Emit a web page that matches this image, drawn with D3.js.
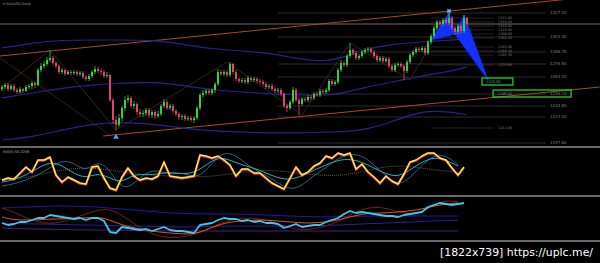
<!DOCTYPE html>
<html>
<head>
<meta charset="utf-8">
<script src="https://cdnjs.cloudflare.com/ajax/libs/d3/7.8.5/d3.min.js"></script>
<style>
body{margin:0;background:#000;}
svg{display:block;}
</style>
</head>
<body>
<svg id="chart" width="600" height="263"></svg>
<script>
// daily candles, open = previous close
const firstOpen = 1251;
const closes = [
1253,1255,1251,1254,1250,1248,1251,1249,1253,1254,
1257,1255,1270,1274,1276,1280,1282,1277,1274,1268,
1270,1266,1268,1267,1268,1266,1267,1263,1261,1264,
1268,1271,1269,1268,1264,1265,1240,1220,1215,1222,
1232,1240,1242,1234,1236,1228,1226,1227,1230,1225,
1228,1224,1226,1234,1238,1232,1234,1229,1226,1223,
1224,1221,1222,1220,1222,1232,1245,1247,1249,1247,
1250,1256,1268,1266,1268,1265,1276,1268,1261,1259,
1260,1258,1262,1260,1261,1259,1258,1256,1253,1254,
1251,1249,1250,1246,1234,1232,1238,1250,1240,1236,
1241,1240,1243,1242,1246,1245,1249,1248,1250,1259,
1256,1258,1270,1277,1275,1284,1290,1287,1282,1284,
1288,1290,1291,1288,1284,1280,1282,1279,1281,1274,
1270,1275,1276,1274,1269,1278,1285,1288,1291,1290,
1292,1287,1298,1304,1312,1318,1316,1320,1317,1322,
1312,1308,1314,1309,1322,1316];
const highs = [
1255,1257,1257,1256,1256,1252,1253,1252,1255,1256,
1259,1258,1272,1277,1279,1283,1290,1284,1279,1276,
1272,1271,1270,1270,1270,1270,1269,1269,1265,1266,
1270,1274,1273,1271,1270,1268,1266,1242,1224,1226,
1234,1244,1245,1244,1239,1238,1231,1230,1232,1232,
1230,1230,1229,1236,1241,1240,1236,1236,1231,1228,
1226,1226,1224,1224,1224,1234,1247,1250,1251,1251,
1252,1258,1271,1270,1270,1270,1278,1277,1270,1263,
1262,1262,1264,1264,1263,1263,1261,1260,1258,1256,
1256,1253,1252,1252,1248,1236,1240,1253,1252,1242,
1243,1243,1245,1245,1248,1248,1251,1251,1252,1261,
1261,1260,1272,1280,1279,1286,1297,1292,1289,1286,
1290,1292,1293,1293,1290,1286,1284,1284,1283,1283,
1276,1277,1278,1278,1276,1280,1287,1290,1293,1293,
1294,1294,1300,1306,1314,1320,1320,1322,1322,1327,
1324,1314,1316,1316,1325,1323];
const lows = [
1249,1251,1249,1250,1248,1246,1246,1247,1248,1251,
1251,1252,1254,1268,1272,1274,1278,1275,1272,1266,
1266,1264,1265,1265,1265,1264,1264,1261,1259,1259,
1262,1266,1267,1265,1262,1262,1238,1216,1210,1213,
1219,1229,1237,1232,1231,1225,1223,1223,1224,1222,
1222,1221,1222,1224,1232,1230,1230,1227,1224,1220,
1220,1219,1219,1218,1217,1220,1230,1243,1245,1245,
1245,1247,1254,1264,1264,1263,1263,1266,1259,1257,
1257,1256,1256,1258,1258,1257,1256,1254,1251,1251,
1249,1247,1247,1244,1232,1228,1230,1236,1238,1225,
1234,1238,1238,1240,1240,1243,1243,1246,1246,1248,
1254,1254,1256,1268,1273,1273,1282,1285,1280,1280,
1282,1286,1288,1286,1282,1278,1278,1277,1277,1272,
1268,1268,1273,1272,1260,1267,1276,1283,1286,1288,
1288,1285,1285,1296,1302,1310,1314,1314,1315,1315,
1310,1305,1306,1306,1307,1314];

// bands, sampled every 10 candles
const bandIdx = [0,10,20,30,40,50,60,70,80,90,100,110,120,130,140,150,155];
const bandUpper = [1292,1297,1300,1300,1300,1300,1296,1291,1289,1287,1280,1278,1290,1296,1298,1300,1301];
const bandMid = [1242,1247,1252,1255,1257,1258,1255,1250,1248,1246,1245,1244,1252,1258,1264,1269,1273];
const bandLower = [1200,1203,1210,1216,1218,1216,1212,1209,1208,1207,1207,1208,1209,1218,1230,1228,1225];

// swing points
const zigIdx = [0,16,38,75,100,116,136,149];
const zigPrice = [1252,1290,1210,1278,1225,1297,1260,1327];

// fib levels, right column
const fibPrices = [1327,1303,1288,1276,1263,1246,1234,1223,1197];
const fibLabels = ["1327.00","1303.40","1288.70","1276.50","1263.20","1246.10","1234.80","1223.00","1197.60"];
// pattern levels
const patPrices = [1322,1318,1314,1310,1306,1302,1293,1289,1285,1275,1212];
const patLabels = ["1322.00","1318.10","1314.00","1310.50","1306.00","1302.20","1293.40","1289.10","1285.30","1275.60","1212.40"];

// harmonic pattern X A B C D
const harmIdx = [143,149,151,154,162];
const harmPrice = [1300,1327,1306,1325,1260];

// target zones
const zoneFrom = [160,163.7];
const zoneTo = [170.3,189.7];
const zoneTop = [1262,1250];
const zoneBottom = [1255,1243];
const zoneLabels = ["1259.80","1246.50"];

// oscillator 1, one value every 2 candles
const rsiMain = [40,44,42,54,66,56,80,80,86,50,
36,46,40,34,32,66,68,44,24,20,
46,64,48,40,44,42,48,76,48,46,
44,46,48,90,88,84,88,80,70,48,
62,62,54,54,44,34,28,22,44,66,
50,56,68,74,88,84,94,90,94,62,
72,56,46,34,48,38,32,52,76,80,
88,94,94,84,80,64,50,66];
// every 4 candles
const rsiTeal = [36,40,50,64,76,70,52,44,54,44,34,52,50,52,56,52,54,70,86,80,70,64,54,44,40,48,60,70,80,82,76,64,52,46,60,76,86,80,68];
const rsiSlow = [28,32,40,50,64,80,74,56,80,60,20,32,56,60,50,56,44,56,90,96,80,60,50,34,20,28,50,64,84,92,90,70,48,28,44,70,90,90,70];
// every 8 candles
const rsiBase = [40,44,56,64,64,56,50,48,46,48,56,60,56,50,48,56,68,68,60,56];

// oscillator 2
const momMain = [44,40,42,46,46,50,54,54,60,58,
56,54,52,54,50,54,54,48,26,24,
36,34,32,30,32,28,32,36,30,28,
28,26,24,40,42,44,50,54,52,52,
48,50,46,48,44,44,42,34,38,42,
36,38,40,40,46,50,54,62,68,64,
66,64,62,60,58,58,56,60,62,64,
66,76,80,84,82,80,82,84];
const momFast = [56,50,50,50,52,52,54,54,56,50,40,34,30,26,24,22,22,30,40,46,48,50,50,48,46,44,44,46,50,56,62,64,64,66,68,72,78,82,84];
const momWave = [74,66,54,46,42,46,54,62,70,72,60,42,28,18,14,16,20,30,42,50,54,54,50,42,34,30,32,38,46,60,72,76,74,66,62,66,80,90,86];
const momNavy = [74,76,78,78,76,72,68,64,62,62,62,60,58,56,56,58,58,58,58,58];
const momNavy2 = [44,42,42,40,40,38,38,36,36,38,38,38,38,38,40,42,44,46,48,50];
const momPurple = [34,32,32,30,30,30,28,28,28,28,28,28,28,28,28,28,28,28,28,28];

let svg = d3.select("#chart");
let x = d3.scaleLinear().domain([0, 155]).range([2, 467]);
let y = d3.scaleLinear().domain([1194, 1340]).range([146, 0]);
let yOsc = d3.scaleLinear().domain([0, 100]).range([200, 150]);
let yMom = d3.scaleLinear().domain([0, 100]).range([245, 195]);

svg.append("rect").attr("width", 600).attr("height", 263).attr("fill", "#000");

let defs = svg.append("defs");
defs.append("clipPath").attr("id", "clipMain").append("rect").attr("width", 600).attr("height", 146);
defs.append("clipPath").attr("id", "clipOsc").append("rect").attr("y", 148).attr("width", 600).attr("height", 47);
defs.append("clipPath").attr("id", "clipMom").append("rect").attr("y", 197).attr("width", 600).attr("height", 43);

let main = svg.append("g").attr("clip-path", "url(#clipMain)");

// fib levels
main.selectAll(".fib").data(fibPrices).enter().append("line")
	.attr("x1", x(92)).attr("x2", 546)
	.attr("y1", d => y(d)).attr("y2", d => y(d))
	.attr("stroke", "#383838").attr("stroke-width", 0.8);
main.selectAll(".fibText").data(fibPrices).enter().append("text")
	.attr("x", 550).attr("y", d => y(d) + 1.3)
	.text((d, i) => fibLabels[i])
	.attr("font-family", "DejaVu Sans").attr("font-size", 4).attr("fill", "#808080");

main.selectAll(".pat").data(patPrices).enter().append("line")
	.attr("x1", x(143)).attr("x2", 494)
	.attr("y1", d => y(d)).attr("y2", d => y(d))
	.attr("stroke", "#303030").attr("stroke-width", 0.7);
main.selectAll(".patText").data(patPrices).enter().append("text")
	.attr("x", 512).attr("y", d => y(d) + 1.2)
	.attr("text-anchor", "end")
	.text((d, i) => patLabels[i])
	.attr("font-family", "DejaVu Sans").attr("font-size", 3.4).attr("fill", "#808080");

// bid line
main.append("line")
	.attr("x1", 0).attr("x2", 600)
	.attr("y1", y(closes[closes.length - 1])).attr("y2", y(closes[closes.length - 1]))
	.attr("stroke", "#6a6a6a").attr("stroke-width", 1);

// channel lines
let chan = d3.line().x(d => x(d[0])).y(d => y(d[1]));
main.append("path").attr("d", chan([[-0.67, 1284], [199.3, 1344]]))
	.attr("fill", "none").attr("stroke", "#a84a26").attr("stroke-width", 1);
main.append("path").attr("d", chan([[33.7, 1204], [199.3, 1253]]))
	.attr("fill", "none").attr("stroke", "#a84a26").attr("stroke-width", 1);
main.append("path").attr("d", chan([[-0.67, 1282], [36, 1205]]))
	.attr("fill", "none").attr("stroke", "#5a2c14").attr("stroke-width", 0.7);

// swing lines
main.append("path")
	.attr("d", d3.line().x(d => x(d)).y((d, i) => y(zigPrice[i]))(zigIdx))
	.attr("fill", "none").attr("stroke", "#3c382c").attr("stroke-width", 0.7);

// bands
[bandUpper, bandMid, bandLower].forEach(function(vals){
	main.append("path")
		.attr("d", d3.line().curve(d3.curveBasis).x(d => x(d)).y((d, i) => y(vals[i]))(bandIdx))
		.attr("fill", "none").attr("stroke", "#24248e").attr("stroke-width", 1.2);
});

// harmonic triangles
let harm = harmIdx.map((d, i) => [x(d), y(harmPrice[i])]);
main.append("path").attr("d", d3.line()([harm[0], harm[1], harm[2]]) + "Z")
	.attr("fill", "#1430ff").attr("stroke", "#1430ff").attr("stroke-width", 0.8);
main.append("path").attr("d", d3.line()([harm[2], harm[3], harm[4]]) + "Z")
	.attr("fill", "#1430ff").attr("stroke", "#1430ff").attr("stroke-width", 0.8);

// candles
let candle = main.selectAll(".candle").data(closes).enter().append("g");
let upCol = "#35d03a", downCol = "#e0456c";
candle.append("line")
	.attr("x1", (d, i) => x(i)).attr("x2", (d, i) => x(i))
	.attr("y1", (d, i) => y(highs[i])).attr("y2", (d, i) => y(lows[i]))
	.attr("stroke", (d, i) => d >= (i === 0 ? firstOpen : closes[i - 1]) ? upCol : downCol)
	.attr("stroke-width", 0.8);
candle.append("rect")
	.attr("x", (d, i) => x(i) - 1)
	.attr("width", 2)
	.attr("y", (d, i) => y(Math.max(d, i === 0 ? firstOpen : closes[i - 1])))
	.attr("height", (d, i) => Math.max(0.8, Math.abs(y(d) - y(i === 0 ? firstOpen : closes[i - 1]))))
	.attr("fill", (d, i) => d >= (i === 0 ? firstOpen : closes[i - 1]) ? upCol : downCol);

// target zones
zoneFrom.forEach(function(f, i){
	main.append("rect")
		.attr("x", x(f)).attr("width", x(zoneTo[i]) - x(f))
		.attr("y", y(zoneTop[i])).attr("height", y(zoneBottom[i]) - y(zoneTop[i]))
		.attr("fill", "none").attr("stroke", "#1fcf2a").attr("stroke-width", 1.3);
	main.append("text")
		.attr("x", x(f) + 4).attr("y", (y(zoneTop[i]) + y(zoneBottom[i])) / 2 + 1.3)
		.text(zoneLabels[i])
		.attr("font-family", "DejaVu Sans").attr("font-size", 3.6).attr("fill", "#808080");
});

// arrows
main.append("path")
	.attr("d", d3.symbol().type(d3.symbolTriangle).size(14)())
	.attr("transform", `translate(${x(38)},${y(lows[38]) + 7})`)
	.attr("fill", "#4aa0ff");
main.append("path")
	.attr("d", d3.symbol().type(d3.symbolCross).size(12)())
	.attr("transform", `translate(${x(149)},${y(highs[149]) - 2}) rotate(45)`)
	.attr("fill", "#6ab4ff");

main.append("text").attr("x", 3).attr("y", 5)
	.text("▾ XAUUSD,Daily")
	.attr("font-family", "DejaVu Sans").attr("font-size", 3.5).attr("fill", "#9a9a9a");

// oscillator 1
let osc = svg.append("g").attr("clip-path", "url(#clipOsc)");
osc.append("path")
	.attr("d", d3.line().curve(d3.curveBasis).x((d, i) => x(i * 8)).y(d => yOsc(d))(rsiBase))
	.attr("fill", "none").attr("stroke", "#9a6a42").attr("stroke-width", 0.8).attr("stroke-dasharray", "1,1");
osc.append("path")
	.attr("d", d3.line().curve(d3.curveBasis).x((d, i) => x(i * 4)).y(d => yOsc(d))(rsiSlow))
	.attr("fill", "none").attr("stroke", "#2a7fb0").attr("stroke-width", 0.8);
osc.append("path")
	.attr("d", d3.line().curve(d3.curveBasis).x((d, i) => x(i * 4)).y(d => yOsc(d))(rsiTeal))
	.attr("fill", "none").attr("stroke", "#22b0c0").attr("stroke-width", 1);
osc.append("path")
	.attr("d", d3.line().x((d, i) => x(i * 2)).y(d => yOsc(d))(rsiMain))
	.attr("fill", "none").attr("stroke", "#f0309a").attr("stroke-width", 2.2).attr("stroke-opacity", 0.85)
	.attr("stroke-linejoin", "miter")
	.attr("transform", "translate(0,0.6)");
osc.append("path")
	.attr("d", d3.line().x((d, i) => x(i * 2)).y(d => yOsc(d))(rsiMain))
	.attr("fill", "none").attr("stroke", "#fff024").attr("stroke-width", 1.5).attr("stroke-linejoin", "round");
svg.append("text").attr("x", 3).attr("y", 152.5)
	.text("RSI(5) 55.3258")
	.attr("font-family", "DejaVu Sans").attr("font-size", 3.5).attr("fill", "#b0b0b0");

// oscillator 2
let mom = svg.append("g").attr("clip-path", "url(#clipMom)");
[[momNavy, 8, "#1c1ca8", 1], [momNavy2, 8, "#24249a", 1], [momPurple, 8, "#5a2a9a", 0.8]].forEach(function(s){
	mom.append("path")
		.attr("d", d3.line().curve(d3.curveBasis).x((d, i) => x(i * s[1])).y(d => yMom(d))(s[0]))
		.attr("fill", "none").attr("stroke", s[2]).attr("stroke-width", s[3]);
});
mom.append("path")
	.attr("d", d3.line().curve(d3.curveBasis).x((d, i) => x(i * 4)).y(d => yMom(d))(momWave))
	.attr("fill", "none").attr("stroke", "#8a2010").attr("stroke-width", 0.9);
mom.append("path")
	.attr("d", d3.line().curve(d3.curveBasis).x((d, i) => x(i * 4)).y(d => yMom(d))(momFast))
	.attr("fill", "none").attr("stroke", "#e0561c").attr("stroke-width", 1);
mom.append("path")
	.attr("d", d3.line().x((d, i) => x(i * 2)).y(d => yMom(d))(momMain))
	.attr("fill", "none").attr("stroke", "#3cc6f0").attr("stroke-width", 1.8).attr("stroke-linejoin", "round");

// separators
svg.selectAll(".sep").data([147, 196, 241]).enter().append("line")
	.attr("x1", 0).attr("x2", 600)
	.attr("y1", d => d).attr("y2", d => d)
	.attr("stroke", "#8c8c8c").attr("stroke-width", 1.5);

svg.append("text").attr("x", 440).attr("y", 256)
	.text("[1822x739] https://uplc.me/")
	.attr("font-family", "DejaVu Sans").attr("font-size", 11)
	.attr("textLength", 153).attr("lengthAdjust", "spacingAndGlyphs")
	.attr("fill", "#fff");
</script>
</body>
</html>
